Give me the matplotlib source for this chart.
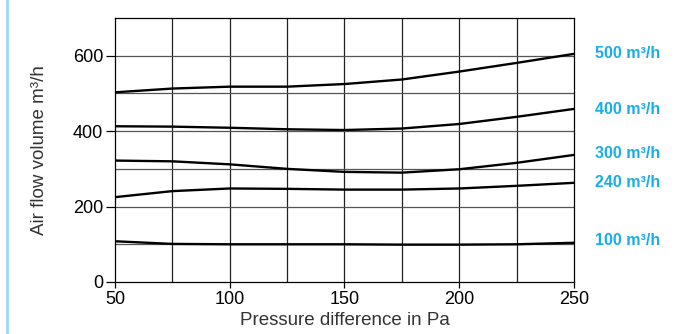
import matplotlib
matplotlib.use("Agg")
import matplotlib.pyplot as plt
from matplotlib.lines import Line2D

plt.rcParams['font.family'] = ['Liberation Sans', 'DejaVu Sans']

# данные
pressure = [50, 75, 100, 125, 150, 175, 200, 225, 250]
flow_500 = [503, 513, 518, 518, 525, 537, 558, 581, 605]
flow_400 = [413, 412, 409, 405, 403, 407, 419, 438, 459]
flow_300 = [322, 320, 312, 300, 292, 290, 299, 316, 337]
flow_240 = [225, 241, 248, 247, 245, 245, 248, 255, 263]
flow_100 = [108, 101, 100, 100, 100, 99, 99, 100, 104]
series = [flow_500, flow_400, flow_300, flow_240, flow_100]
labels = ['500 m³/h', '400 m³/h', '300 m³/h', '240 m³/h', '100 m³/h']
label_y = [605, 457, 340, 263, 109]

blue = '#1aade6'

fig = plt.figure(figsize=(6.78, 3.34), dpi=100)
ax = fig.add_axes([0.1696, 0.1557, 0.677, 0.7903])

# сетка
for x in range(75, 250, 25):
    ax.axvline(x, color='#222222', lw=0.9, zorder=1)
for y in range(100, 700, 100):
    ax.axhline(y, color='#555555', lw=0.9, zorder=1)

for vals in series:
    ax.plot(pressure, vals, color='black', lw=1.7, zorder=3)

for lab, y in zip(labels, label_y):
    ax.text(1.045, y, lab, transform=ax.get_yaxis_transform(), color=blue,
            fontsize=11.5, fontweight='bold', va='center', ha='left')

ax.set_xlim(50, 250)
ax.set_ylim(0, 700)
ax.set_xticks([50, 100, 150, 200, 250])
ax.set_yticks([0, 200, 400, 600])
ax.tick_params(labelsize=13, direction='out', colors='black', width=0.9)
ax.tick_params(axis='x', length=4.5, pad=2)
ax.tick_params(axis='y', length=6.5, pad=2)
for s in ax.spines.values():
    s.set_linewidth(0.9)
    s.set_color('black')
ax.set_xlabel('Pressure difference in Pa', fontsize=13.5, color='#333333', labelpad=3)
ax.set_ylabel('Air flow volume m³/h', fontsize=13.5, color='#333333', labelpad=18)

# голубая линия слева
fig.add_artist(Line2D([0.011, 0.011], [0, 1], color='#9fd8f5', lw=2, transform=fig.transFigure))

fig.savefig('out.png', dpi=100)
